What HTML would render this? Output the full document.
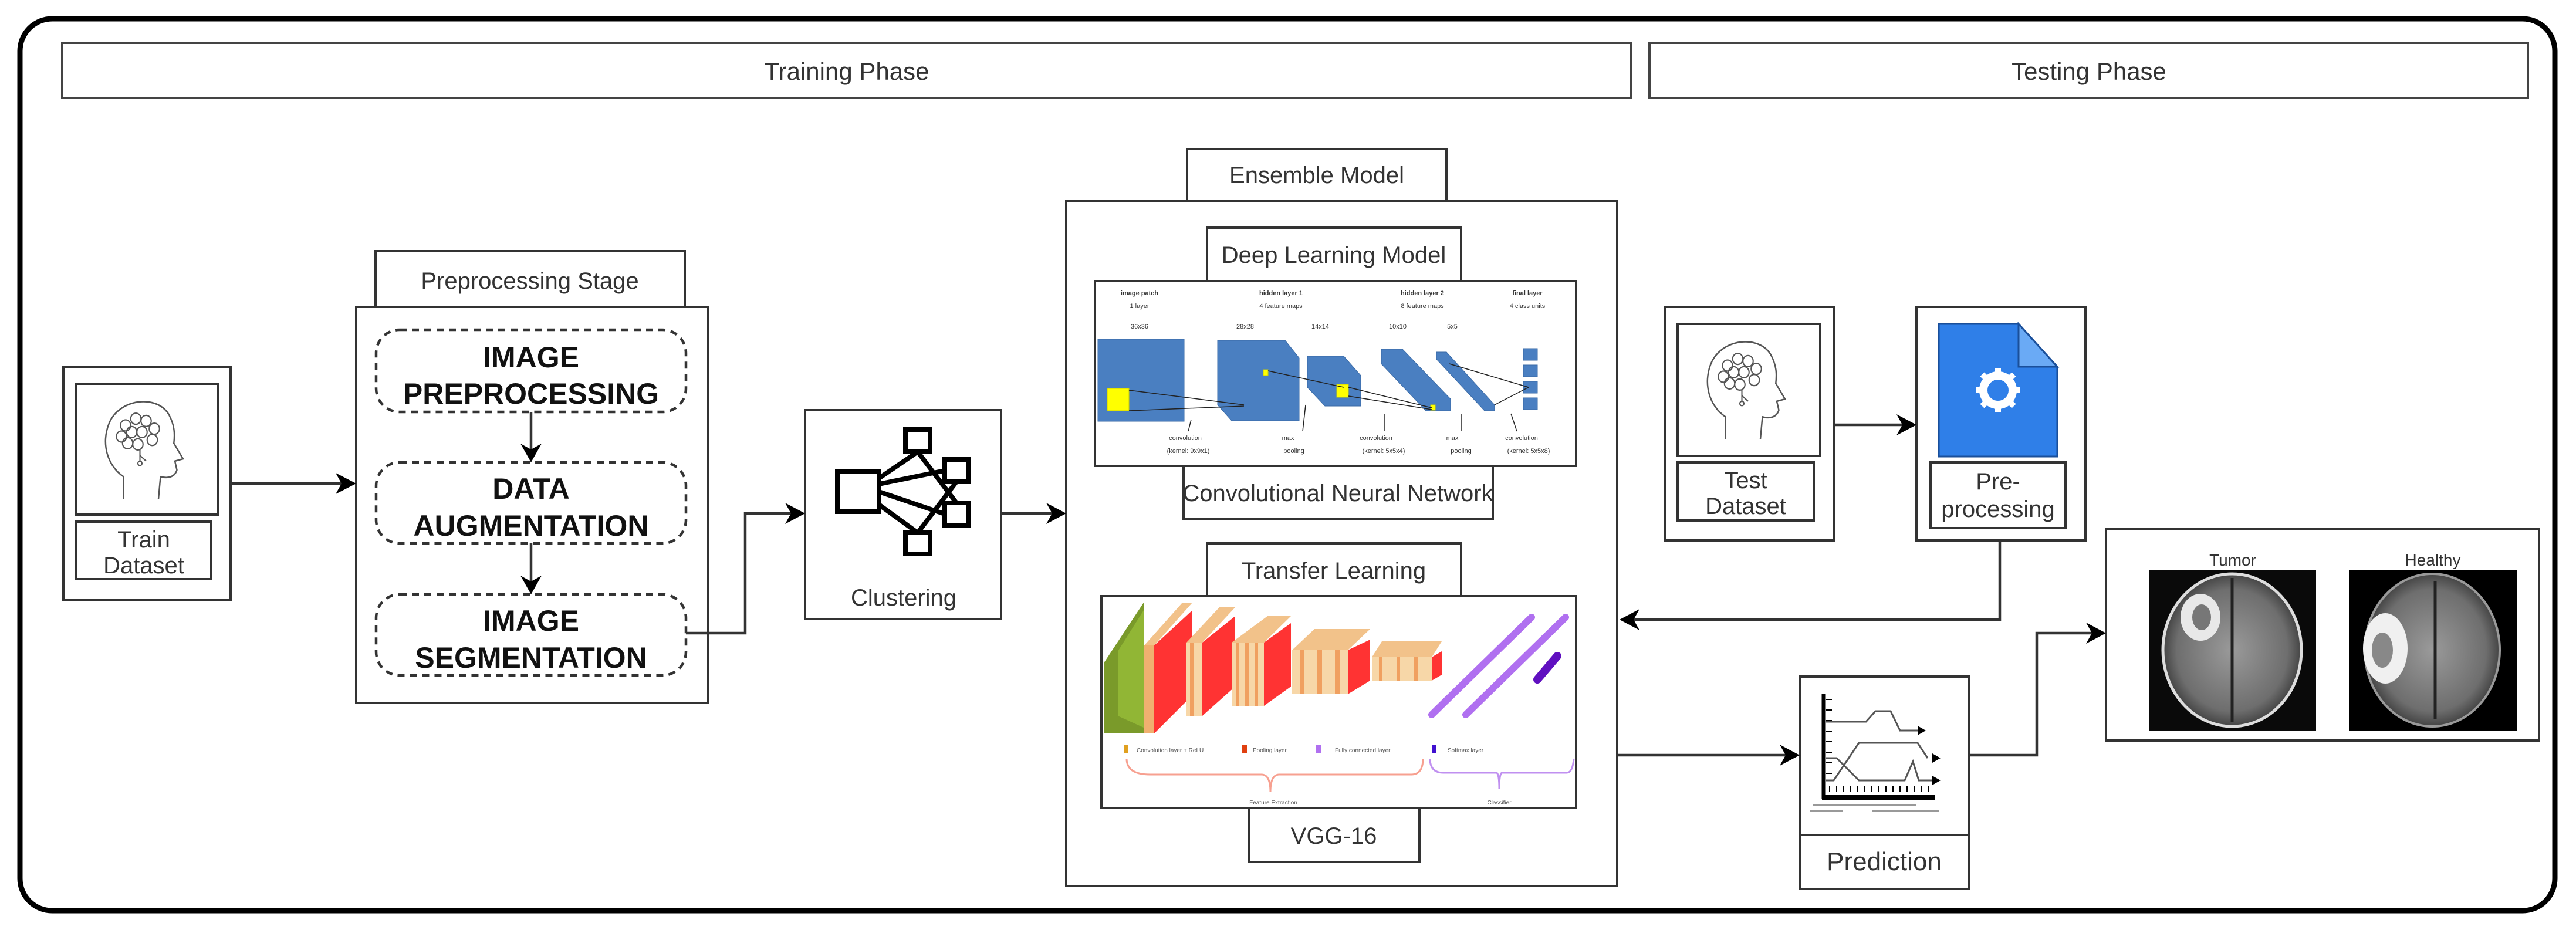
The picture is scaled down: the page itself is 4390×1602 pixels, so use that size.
<!DOCTYPE html>
<html><head><meta charset="utf-8"><style>
html,body{margin:0;padding:0;background:#fff;}
svg{display:block;}
text{font-family:"Liberation Sans",sans-serif;}
</style></head><body>
<svg width="4390" height="1602" viewBox="0 0 4390 1602" xmlns="http://www.w3.org/2000/svg">
<defs>
<g id="head">
<path d="M30,96 L30,76 C14,66 8,46 16,28 C26,6 62,2 74,20 C80,30 80,38 79,46 L88,60 L80,62 L82,70 C80,76 74,78 66,76 L64,96" fill="none" stroke="#555" stroke-width="1.4"/>
<g fill="none" stroke="#555" stroke-width="1.2">
<circle cx="32" cy="30" r="5"/><circle cx="42" cy="24" r="5"/><circle cx="52" cy="26" r="5"/><circle cx="60" cy="33" r="5"/>
<circle cx="28" cy="40" r="5"/><circle cx="38" cy="36" r="5"/><circle cx="48" cy="36" r="5"/><circle cx="58" cy="43" r="5"/>
<circle cx="34" cy="46" r="5"/><circle cx="44" cy="47" r="5"/><path d="M46,52 L46,62 M46,57 L52,62"/><circle cx="46" cy="64" r="2"/>
</g>
</g>
<radialGradient id="brain" cx="50%" cy="50%" r="50%">
<stop offset="0" stop-color="#9a9a9a"/><stop offset="0.8" stop-color="#6e6e6e"/><stop offset="1" stop-color="#444"/>
</radialGradient>
</defs>

<rect x="34" y="32" width="4320" height="1520" rx="55" fill="none" stroke="#000" stroke-width="9"/>

<g fill="#fff" stroke="#444" stroke-width="4">
<rect x="106" y="73" width="2674" height="94"/>
<rect x="2811" y="73" width="1497" height="94"/>
</g>
<text x="1443" y="136" font-size="42" text-anchor="middle" fill="#333">Training Phase</text>
<text x="3560" y="136" font-size="42" text-anchor="middle" fill="#333">Testing Phase</text>

<g fill="#fff" stroke="#333" stroke-width="4">
<rect x="108" y="625" width="285" height="398"/>
<rect x="130" y="654" width="242" height="223"/>
<rect x="130" y="889" width="230" height="98"/>
<rect x="640" y="428" width="527" height="95"/>
<rect x="607" y="523" width="600" height="675"/>
<rect x="1372" y="699" width="334" height="356"/>
<rect x="2023" y="254" width="442" height="88"/>
<rect x="1817" y="342" width="939" height="1168"/>
<rect x="2057" y="388" width="433" height="91"/>
<rect x="1866" y="479" width="820" height="315"/>
<rect x="2017" y="794" width="527" height="91"/>
<rect x="2057" y="926" width="433" height="90"/>
<rect x="1877" y="1016" width="809" height="361"/>
<rect x="2128" y="1377" width="291" height="92"/>
<rect x="2837" y="523" width="288" height="398"/>
<rect x="2859" y="552" width="243" height="225"/>
<rect x="2859" y="788" width="232" height="99"/>
<rect x="3266" y="523" width="288" height="398"/>
<rect x="3290" y="788" width="230" height="112"/>
<rect x="3589" y="902" width="738" height="360"/>
<rect x="3067" y="1153" width="288" height="362"/>
<line x1="3067" y1="1423" x2="3355" y2="1423"/>
</g>

<g fill="#fff" stroke="#333" stroke-width="4.5" stroke-dasharray="12,9">
<rect x="641" y="562" width="528" height="140" rx="40"/>
<rect x="641" y="788" width="528" height="138" rx="40"/>
<rect x="641" y="1013" width="528" height="138" rx="40"/>
</g>
<g font-size="50" font-weight="bold" text-anchor="middle" fill="#111">
<text x="905" y="626">IMAGE</text><text x="905" y="688">PREPROCESSING</text>
<text x="905" y="850">DATA</text><text x="905" y="913">AUGMENTATION</text>
<text x="905" y="1075">IMAGE</text><text x="905" y="1138">SEGMENTATION</text>
</g>

<g font-size="40" text-anchor="middle" fill="#333">
<text x="245" y="933">Train</text><text x="245" y="977">Dataset</text>
<text x="903" y="492">Preprocessing Stage</text>
<text x="1540" y="1032">Clustering</text>
<text x="2244" y="312">Ensemble Model</text>
<text x="2273" y="448">Deep Learning Model</text>
<text x="2280" y="854">Convolutional Neural Network</text>
<text x="2273" y="986">Transfer Learning</text>
<text x="2273" y="1438">VGG-16</text>
<text x="2975" y="832">Test</text><text x="2975" y="876">Dataset</text>
<text x="3405" y="834">Pre-</text><text x="3405" y="881">processing</text>
<text x="3211" y="1483" font-size="44">Prediction</text>
<text x="3805" y="964" font-size="28">Tumor</text>
<text x="4146" y="964" font-size="28">Healthy</text>
</g>

<g fill="none" stroke="#333" stroke-width="4.5">
<path d="M393,824 H590"/>
<path d="M905,702 V775"/>
<path d="M905,926 V1000"/>
<path d="M1169,1079 H1270 V875 H1355"/>
<path d="M1706,875 H1800"/>
<path d="M3125,724 H3250"/>
<path d="M3408,921 V1056 H2785"/>
<path d="M2756,1287 H3050"/>
<path d="M3355,1287 H3471 V1079 H3572"/>
</g>
<g fill="#000">
<polygon points="607,824 572,806 582,824 572,842"/>
<polygon points="905,788 887,756 905,766 923,756"/>
<polygon points="905,1013 887,981 905,991 923,981"/>
<polygon points="1372,875 1338,857 1348,875 1338,893"/>
<polygon points="1817,875 1783,857 1793,875 1783,893"/>
<polygon points="3266,724 3232,706 3242,724 3232,742"/>
<polygon points="2760,1056 2794,1038 2784,1056 2794,1074"/>
<polygon points="3067,1287 3033,1269 3043,1287 3033,1305"/>
<polygon points="3589,1079 3555,1061 3565,1079 3555,1097"/>
</g>

<use href="#head" transform="translate(158,668) scale(1.75,1.9)"/>
<use href="#head" transform="translate(2888,566) scale(1.75,1.9)"/>

<g fill="#fff" stroke="#000" stroke-width="8">
<line x1="1498" y1="815" x2="1564" y2="770"/><line x1="1498" y1="825" x2="1610" y2="802"/>
<line x1="1498" y1="838" x2="1610" y2="876"/><line x1="1498" y1="860" x2="1564" y2="908"/>
<line x1="1564" y1="770" x2="1630" y2="857"/><line x1="1564" y1="908" x2="1630" y2="821"/>
<rect x="1427" y="804" width="71" height="68"/>
<rect x="1543" y="732" width="42" height="38"/>
<rect x="1610" y="783" width="40" height="38"/>
<rect x="1610" y="857" width="40" height="38"/>
<rect x="1543" y="908" width="42" height="36"/>
</g>

<g font-size="11" fill="#333" text-anchor="middle">
<text x="1942" y="503" font-weight="bold">image patch</text><text x="1942" y="525">1 layer</text><text x="1942" y="560">36x36</text>
<text x="2183" y="503" font-weight="bold">hidden layer 1</text><text x="2183" y="525">4 feature maps</text><text x="2122" y="560">28x28</text><text x="2250" y="560">14x14</text>
<text x="2424" y="503" font-weight="bold">hidden layer 2</text><text x="2424" y="525">8 feature maps</text><text x="2382" y="560">10x10</text><text x="2475" y="560">5x5</text>
<text x="2603" y="503" font-weight="bold">final layer</text><text x="2603" y="525">4 class units</text>
<text x="2020" y="750">convolution</text><text x="2025" y="772">(kernel: 9x9x1)</text>
<text x="2195" y="750">max</text><text x="2205" y="772">pooling</text>
<text x="2345" y="750">convolution</text><text x="2358" y="772">(kernel: 5x5x4)</text>
<text x="2475" y="750">max</text><text x="2490" y="772">pooling</text>
<text x="2593" y="750">convolution</text><text x="2605" y="772">(kernel: 5x5x8)</text>
</g>
<g fill="#4a7fc1" stroke="#3a6aa5" stroke-width="1">
<rect x="1871" y="578" width="147" height="140"/>
<polygon points="2075,580 2190,580 2214,610 2214,717 2099,717 2075,690"/>
<polygon points="2228,607 2290,607 2319,640 2319,692 2258,692 2228,660"/>
<polygon points="2354,595 2390,595 2472,680 2472,700 2430,700 2354,620"/>
<polygon points="2448,600 2465,600 2547,690 2547,700 2530,700 2448,612"/>
<rect x="2596" y="594" width="24" height="20"/><rect x="2596" y="622" width="24" height="20"/>
<rect x="2596" y="650" width="24" height="20"/><rect x="2596" y="678" width="24" height="20"/>
</g>
<g fill="#ff0" stroke="#cc0"><rect x="1887" y="662" width="37" height="38"/><rect x="2278" y="655" width="20" height="22"/><rect x="2153" y="630" width="8" height="10"/><rect x="2438" y="690" width="8" height="9"/></g>
<g stroke="#222" stroke-width="1.5" fill="none">
<path d="M1924,665 L2120,690 M1924,700 L2120,692 M2161,632 L2290,660 M2298,660 L2440,695 M2298,675 L2440,698 M2547,690 L2605,660 M2470,620 L2605,660"/>
<path d="M2030,715 L2025,735 M2225,690 L2220,735 M2360,705 L2360,735 M2490,705 L2490,735 M2575,705 L2585,735"/>
</g>

<polygon points="1949,1027 1949,1250 1881,1250 1881,1130" fill="#7a9a2a"/>
<polygon points="1949,1040 1949,1240 1905,1220 1905,1110" fill="#9bc23a" opacity="0.7"/>
<g>
<polygon points="1950,1100 2015,1027 2032,1027 1967,1100" fill="#f2c28a"/>
<rect x="1950" y="1100" width="17" height="150" fill="#f0b070"/>
<polygon points="1967,1100 2032,1040 2032,1185 1967,1250" fill="#f33"/>
<polygon points="2022,1095 2078,1035 2105,1035 2049,1095" fill="#f2c28a"/>
<rect x="2022" y="1095" width="27" height="125" fill="#f7d7a8"/><rect x="2028" y="1095" width="6" height="125" fill="#f0a060"/>
<polygon points="2049,1095 2105,1050 2105,1170 2049,1220" fill="#f33"/>
<polygon points="2099,1095 2160,1050 2200,1050 2154,1095" fill="#f2c28a"/>
<rect x="2099" y="1095" width="55" height="108" fill="#f7d7a8"/>
<rect x="2106" y="1095" width="6" height="108" fill="#f0a060"/><rect x="2122" y="1095" width="6" height="108" fill="#f0a060"/><rect x="2138" y="1095" width="6" height="108" fill="#f0a060"/>
<polygon points="2154,1095 2200,1062 2200,1170 2154,1203" fill="#f33"/>
<polygon points="2202,1108 2240,1072 2335,1072 2297,1108" fill="#f2c28a"/>
<rect x="2202" y="1108" width="95" height="75" fill="#f7d7a8"/>
<rect x="2215" y="1108" width="8" height="75" fill="#f0a060"/><rect x="2245" y="1108" width="8" height="75" fill="#f0a060"/><rect x="2275" y="1108" width="8" height="75" fill="#f0a060"/>
<polygon points="2297,1108 2335,1090 2335,1160 2297,1183" fill="#f33"/>
<polygon points="2338,1120 2355,1093 2457,1093 2440,1120" fill="#f2c28a"/>
<rect x="2338" y="1120" width="102" height="40" fill="#f7d7a8"/>
<rect x="2350" y="1120" width="6" height="40" fill="#f0a060"/><rect x="2380" y="1120" width="6" height="40" fill="#f0a060"/><rect x="2410" y="1120" width="6" height="40" fill="#f0a060"/>
<polygon points="2440,1120 2457,1110 2457,1150 2440,1160" fill="#f33"/>
</g>
<g stroke="#b070f0" stroke-width="12" stroke-linecap="round"><line x1="2440" y1="1218" x2="2610" y2="1052"/><line x1="2498" y1="1218" x2="2668" y2="1052"/></g>
<line x1="2620" y1="1158" x2="2654" y2="1118" stroke="#6010c0" stroke-width="14" stroke-linecap="round"/>
<g font-size="10" fill="#555">
<rect x="1915" y="1270" width="8" height="14" fill="#e0a020"/><text x="1937" y="1282">Convolution layer + ReLU</text>
<rect x="2117" y="1270" width="8" height="14" fill="#e04010"/><text x="2135" y="1282">Pooling layer</text>
<rect x="2243" y="1270" width="8" height="14" fill="#b070f0"/><text x="2275" y="1282">Fully connected layer</text>
<rect x="2440" y="1270" width="8" height="14" fill="#4010d0"/><text x="2467" y="1282">Softmax layer</text>
<text x="2170" y="1371" text-anchor="middle">Feature Extraction</text><text x="2555" y="1371" text-anchor="middle">Classifier</text>
</g>
<path d="M1920,1293 Q1920,1320 1960,1320 L2150,1320 Q2165,1320 2165,1350 Q2165,1320 2180,1320 L2405,1320 Q2425,1320 2425,1293" fill="none" stroke="#f7a090" stroke-width="3"/>
<path d="M2437,1293 Q2437,1317 2460,1317 L2550,1317 Q2555,1317 2555,1345 Q2555,1317 2560,1317 L2670,1317 Q2680,1317 2682,1293" fill="none" stroke="#c090f0" stroke-width="3"/>

<polygon points="3304,552 3440,552 3506,625 3506,778 3304,778" fill="#2f7fe8" stroke="#1a4f9a" stroke-width="3"/>
<polygon points="3440,552 3440,625 3506,625" fill="#6aaaf5" stroke="#1a4f9a" stroke-width="3"/>
<g transform="translate(3405,665)">
<circle r="26" fill="none" stroke="#fff" stroke-width="12"/>
<g stroke="#fff" stroke-width="10"><line x1="0" y1="-38" x2="0" y2="38"/><line x1="-38" y1="0" x2="38" y2="0"/><line x1="-27" y1="-27" x2="27" y2="27"/><line x1="-27" y1="27" x2="27" y2="-27"/></g>
<circle r="20" fill="#2f7fe8"/><circle r="22" fill="none" stroke="#fff" stroke-width="8"/>
</g>

<g stroke="#000" fill="none">
<line x1="3108" y1="1183" x2="3108" y2="1362" stroke-width="7"/>
<line x1="3105" y1="1359" x2="3297" y2="1359" stroke-width="8"/>
<path d="M3112,1230 H3180 L3196,1212 H3222 L3238,1245 H3268" stroke="#555" stroke-width="3"/>
<path d="M3112,1292 H3130 L3168,1330 H3246 L3260,1298 L3270,1330 H3295" stroke="#555" stroke-width="3"/>
<path d="M3112,1330 H3125 L3168,1266 H3268 L3285,1292" stroke="#555" stroke-width="3"/>
<path d="M3118,1350 V1340 M3130,1350 V1340 M3142,1350 V1340 M3154,1350 V1340 M3166,1350 V1340 M3178,1350 V1340 M3190,1350 V1340 M3202,1350 V1340 M3214,1350 V1340 M3226,1350 V1340 M3238,1350 V1340 M3250,1350 V1340 M3262,1350 V1340 M3274,1350 V1340 M3286,1350 V1340" stroke-width="2"/>
<path d="M3112,1192 H3122 M3112,1210 H3122 M3112,1228 H3122 M3112,1246 H3122 M3112,1264 H3122 M3112,1282 H3122 M3112,1300 H3122 M3112,1318 H3122" stroke-width="2"/>
<path d="M3090,1372 H3265 M3085,1382 H3140 M3190,1382 H3305" stroke="#999" stroke-width="4"/>
</g>
<g fill="#000"><polygon points="3282,1245 3268,1237 3268,1253"/><polygon points="3307,1292 3293,1284 3293,1300"/><polygon points="3307,1330 3293,1322 3293,1338"/></g>

<rect x="3662" y="972" width="285" height="273" fill="#0a0a0a"/>
<ellipse cx="3804" cy="1108" rx="118" ry="130" fill="url(#brain)" stroke="#ddd" stroke-width="5"/>
<path d="M3804,985 V1230" stroke="#222" stroke-width="5"/>
<ellipse cx="3750" cy="1052" rx="34" ry="40" fill="#e8e8e8"/>
<ellipse cx="3752" cy="1052" rx="16" ry="22" fill="#777"/>
<rect x="4003" y="972" width="286" height="273" fill="#000"/>
<ellipse cx="4145" cy="1108" rx="115" ry="130" fill="url(#brain)" stroke="#999" stroke-width="4"/>
<path d="M4150,990 V1225" stroke="#222" stroke-width="5"/>
<ellipse cx="4065" cy="1105" rx="38" ry="60" fill="#f0f0f0"/>
<ellipse cx="4060" cy="1108" rx="18" ry="30" fill="#888"/>
</svg>
</body></html>
